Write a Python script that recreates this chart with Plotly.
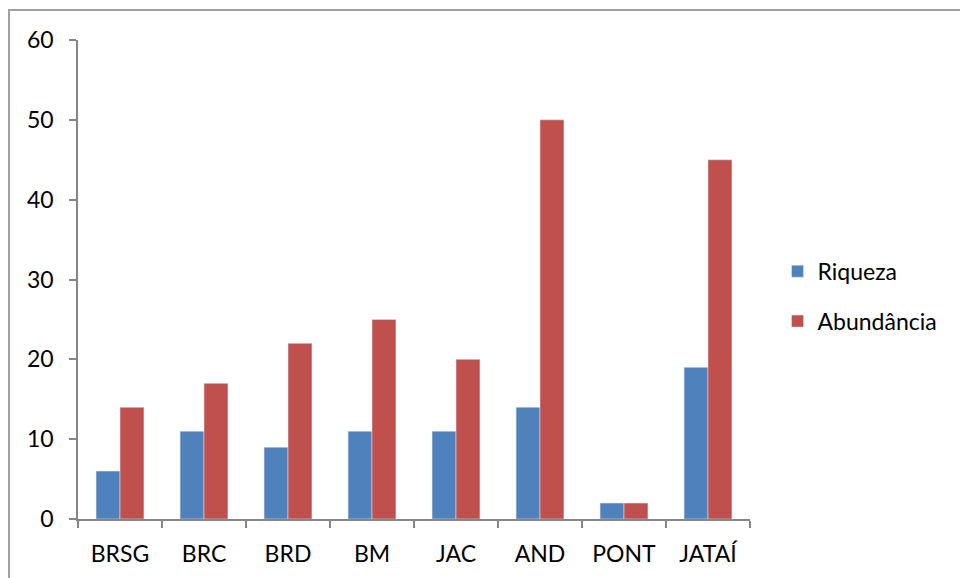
import plotly.graph_objects as go

sites = ["BRSG", "BRC", "BRD", "BM", "JAC", "AND", "PONT", "JATAÍ"]
riqueza = [6, 11, 9, 11, 11, 14, 2, 19]
abundancia = [14, 17, 22, 25, 20, 50, 2, 45]
y_ticks = [0, 10, 20, 30, 40, 50, 60]

FONT = "Lato, 'Open Sans', sans-serif"
AXIS_GREY = "#868686"
FS = 23

fig = go.Figure()
fig.add_trace(go.Bar(name="Riqueza", x=sites, y=riqueza, marker_color="#4F81BD",
                     legendgroup="a"))
fig.add_trace(go.Bar(name="Abundância", x=sites, y=abundancia, marker_color="#C0504D",
                     legendgroup="b"))

fig.update_layout(
    width=960, height=578,
    margin=dict(l=78, r=210, t=40, b=59),
    paper_bgcolor="white", plot_bgcolor="white",
    barmode="group", bargap=0.43, bargroupgap=0,
    font=dict(family=FONT, size=FS, color="black"),
    showlegend=True,
    legend=dict(x=1.041, y=0.465, xanchor="left", yanchor="middle",
                traceorder="grouped", tracegroupgap=17, itemwidth=30,
                font=dict(size=FS, family=FONT)),
    xaxis=dict(type="category", showline=True, linecolor=AXIS_GREY, linewidth=1.5,
               ticks="outside", tickson="boundaries", ticklen=7, tickcolor=AXIS_GREY,
               tickwidth=1.5, showgrid=False, tickfont=dict(size=FS),
               ticklabelstandoff=14),
    yaxis=dict(range=[0, 60], tickvals=y_ticks, showline=True, linecolor=AXIS_GREY,
               linewidth=1.5, ticks="outside", ticklen=7, tickcolor=AXIS_GREY,
               tickwidth=1.5, showgrid=False, zeroline=False, tickfont=dict(size=FS),
               ticklabelstandoff=11),
    shapes=[dict(type="rect", xref="paper", yref="paper",
                 x0=-0.1027, x1=1.5, y0=-0.3, y1=1.0626,
                 line=dict(color="#A0A0A0", width=2), layer="below")],
)

fig.write_html("out.html")
